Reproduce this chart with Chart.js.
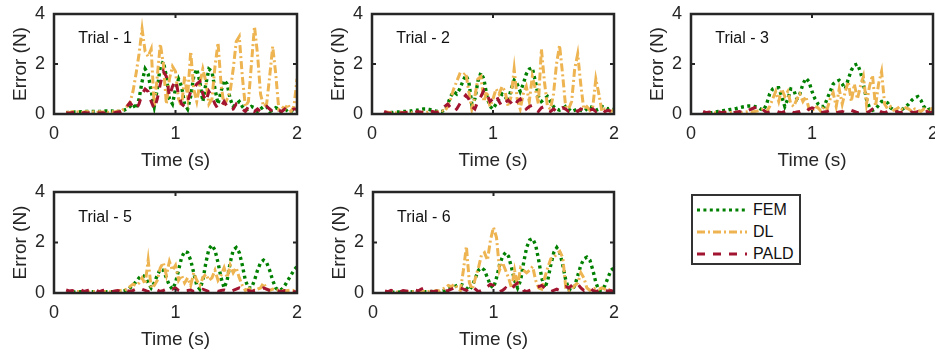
<!DOCTYPE html>
<html>
<head>
<meta charset="utf-8">
<script src="https://cdn.jsdelivr.net/npm/chart.js@4.4.1/dist/chart.umd.min.js"></script>
<style>
  html, body { margin: 0; padding: 0; background: #fff; overflow: hidden; }
  body { width: 935px; height: 353px; position: relative; font-family: "Liberation Sans", Arial, sans-serif; }
  canvas { position: absolute; }
  #legend { position: absolute; left: 691px; top: 194px; width: 110px; height: 71px; box-sizing: border-box;
            border: 2px solid #333; background: #fff; padding-top: 3px; }
  .row { height: 22px; display: flex; align-items: center; font-size: 16px; color: #111; }
  .row svg { margin-left: 3px; margin-right: 5px; }
</style>
</head>
<body>
<canvas id="trial1"></canvas>
<canvas id="trial2"></canvas>
<canvas id="trial3"></canvas>
<canvas id="trial5"></canvas>
<canvas id="trial6"></canvas>
<div id="legend">
  <div class="row"><svg width="52" height="6"><line x1="1" y1="3" x2="51" y2="3" stroke="#008000" stroke-width="3.2" stroke-dasharray="3 3.4"/></svg>FEM</div>
  <div class="row"><svg width="52" height="6"><line x1="1" y1="3" x2="51" y2="3" stroke="#EDB451" stroke-width="2.8" stroke-dasharray="8 3 2 3"/></svg>DL</div>
  <div class="row"><svg width="52" height="6"><line x1="1" y1="3" x2="51" y2="3" stroke="#A2142F" stroke-width="2.8" stroke-dasharray="8 8"/></svg>PALD</div>
</div>
<script>
// time axis (s)
var timeS = [0.1,0.125,0.15,0.175,0.2,0.225,0.25,0.275,0.3,0.325,0.35,0.375,0.4,0.425,0.45,0.475,0.5,0.525,0.55,0.575,
  0.6,0.625,0.65,0.675,0.7,0.725,0.75,0.775,0.8,0.825,0.85,0.875,0.9,0.925,0.95,0.975,1.0,1.025,1.05,1.075,
  1.1,1.125,1.15,1.175,1.2,1.225,1.25,1.275,1.3,1.325,1.35,1.375,1.4,1.425,1.45,1.475,1.5,1.525,1.55,1.575,
  1.6,1.625,1.65,1.675,1.7,1.725,1.75,1.775,1.8,1.825,1.85,1.875,1.9,1.925,1.95,1.975,2.0];

var xTicks = [0, 1, 2];
var yTicks = [0, 2, 4];
var seriesNames = ['FEM', 'DL', 'PALD'];
var trialNames = ['Trial - 1', 'Trial - 2', 'Trial - 3', 'Trial - 5', 'Trial - 6'];

// Trial 1
var fem1 = [0.05,0.06,0.07,0.08, 0.08,0.09,0.1,0.1, 0.1,0.1,0.1,0.1, 0.1,0.12,0.12,0.12, 0.1,0.1,0.1,0.15,
  0.2,0.3,0.4,0.2, 0.6,1.3,1.8,1.6, 0.9,0.3,1.0,1.9, 2.1,1.5,0.6,0.4, 1.0,1.4,1.1,0.4, 0.2,0.7,1.5,1.8,
  1.3,0.5,1.2,1.8, 1.7,1.0,0.4,0.9, 1.35,1.2,0.6,0.3, 0.4,0.5,0.3,0.15, 0.2,0.3,0.25,0.1, 0.2,0.3,0.3,0.1,
  0.15,0.25,0.2,0.05, 0.1,0.2,0.15,0.05, 0.1];
var dl1 = [0.08,0.05,0.1,0.06, 0.09,0.05,0.08,0.1, 0.06,0.09,0.05,0.1, 0.07,0.12,0.06,0.1, 0.08,0.12,0.1,0.2,
  0.3,0.45,0.9,1.6, 2.4,3.4,2.5,2.3, 2.6,0.3,1.5,2.8, 2.0,0.4,1.4,1.9, 1.7,0.6,0.3,1.5, 0.7,2.5,1.0,0.5,
  1.2,1.8,1.3,0.4, 0.6,1.9,2.85,1.2, 0.3,0.6,0.9,1.8, 2.9,3.1,1.5,0.3, 0.5,2.0,3.5,2.4, 0.8,0.3,0.4,1.5,
  2.7,1.6,0.2,0.3, 0.2,0.4,0.1,0.3, 1.4];
var pald1 = [0.05,0.03,0.06,0.04, 0.05,0.03,0.06,0.04, 0.05,0.03,0.06,0.04, 0.05,0.03,0.06,0.04, 0.05,0.08,0.1,0.15,
  0.3,0.45,0.3,0.2, 0.4,0.8,1.0,0.9, 0.5,0.2,0.6,1.2, 1.7,1.5,0.7,1.1, 1.35,0.8,0.4,0.3, 0.5,0.9,1.0,1.2,
  1.3,0.8,0.5,0.9, 0.7,0.4,0.2,0.3, 0.5,0.3,0.15,0.2, 0.4,0.3,0.2,0.1, 0.3,0.2,0.1,0.2, 0.1,0.15,0.3,0.2,
  0.1,0.2,0.15,0.1, 0.2,0.1,0.15,0.2, 0.2];

// Trial 2
var fem2 = [0.05,0.05,0.06,0.06, 0.08,0.08,0.1,0.1, 0.12,0.12,0.15,0.15, 0.18,0.2,0.2,0.18, 0.15,0.12,0.1,0.1,
  0.15,0.4,0.7,0.9, 0.8,1.0,1.3,1.55, 1.3,0.4,0.6,1.3, 1.65,1.4,0.7,0.3, 0.2,0.4,0.6,0.8, 0.7,0.5,1.0,1.35,
  1.2,0.9,1.2,1.6, 1.8,1.85,1.3,0.7, 0.5,0.6,0.7,0.5, 0.3,0.2,0.15,0.2, 0.3,0.2,0.1,0.15, 0.2,0.15,0.1,0.2,
  0.3,0.25,0.15,0.2, 0.3,0.25,0.2,0.25, 0.2];
var dl2 = [0.05,0.08,0.05,0.06, 0.05,0.08,0.06,0.05, 0.07,0.05,0.08,0.06, 0.05,0.08,0.06,0.1, 0.08,0.06,0.1,0.15,
  0.1,0.3,0.6,1.0, 1.3,1.6,1.55,1.65, 0.9,0.2,0.7,1.4, 1.5,0.5,0.9,0.3, 0.6,1.0,0.8,1.1, 0.9,0.3,0.7,1.8,
  0.6,0.2,0.8,1.1, 0.5,1.5,1.0,0.4, 2.6,1.3,0.3,0.2, 0.8,2.0,2.75,1.6, 0.3,0.2,0.5,1.8, 2.4,1.2,0.2,0.3,
  0.15,0.3,1.4,0.8, 0.1,0.2,0.15,0.1, 0.15];
var pald2 = [0.1,0.05,0.03,0.06, 0.08,0.04,0.05,0.06, 0.08,0.05,0.06,0.1, 0.08,0.06,0.1,0.12, 0.1,0.06,0.08,0.15,
  0.3,0.4,0.25,0.1, 0.2,0.4,0.6,0.75, 0.6,0.3,0.2,0.5, 0.7,0.95,0.8,0.5, 0.6,0.75,0.5,0.3, 0.45,0.55,0.45,0.3,
  0.5,0.6,0.4,0.2, 0.3,0.35,0.2,0.1, 0.25,0.3,0.15,0.1, 0.2,0.1,0.15,0.25, 0.2,0.1,0.15,0.2, 0.1,0.2,0.15,0.1,
  0.15,0.2,0.1,0.15, 0.2,0.1,0.15,0.1, 0.1];

// Trial 3
var fem3 = [0.03,0.04,0.05,0.06, 0.08,0.1,0.12,0.14, 0.15,0.18,0.2,0.22, 0.25,0.28,0.3,0.32, 0.32,0.3,0.28,0.2,
  0.15,0.4,0.8,1.0, 1.05,1.05,0.7,0.3, 0.6,1.0,0.95,0.6, 0.8,1.2,1.43,1.3, 0.9,0.6,0.4,0.3, 0.3,0.6,0.9,1.2,
  1.3,1.35,1.2,1.0, 1.4,1.75,1.95,2.0, 1.7,1.2,0.6,0.25, 0.15,0.2,0.35,0.5, 0.5,0.45,0.25,0.15, 0.12,0.15,0.2,0.3,
  0.4,0.55,0.65,0.7, 0.55,0.3,0.15,0.2, 0.2];
var dl3 = [0.03,0.05,0.04,0.06, 0.05,0.04,0.06,0.05, 0.04,0.06,0.05,0.07, 0.05,0.06,0.08,0.1, 0.08,0.1,0.12,0.15,
  0.2,0.1,0.3,0.6, 0.9,0.5,1.0,0.7, 0.9,0.4,0.3,0.6, 0.8,0.5,0.7,0.2, 0.1,0.3,0.25,0.1, 0.3,0.2,0.6,0.85,
  0.3,1.0,0.4,0.9, 1.3,0.5,1.2,0.6, 1.1,1.5,0.4,1.1, 1.55,0.3,1.2,1.7, 0.4,0.2,0.3,0.15, 0.2,0.3,0.15,0.25,
  0.2,0.1,0.2,0.15, 0.1,0.2,0.1,0.25, 0.15];
var pald3 = [0.1,0.05,0.08,0.04, 0.06,0.1,0.05,0.08, 0.06,0.1,0.05,0.08, 0.1,0.06,0.12,0.15, 0.2,0.25,0.3,0.28,
  0.15,0.05,0.08,0.1, 0.12,0.08,0.05,0.1, 0.15,0.1,0.05,0.08, 0.1,0.15,0.1,0.2, 0.25,0.2,0.1,0.05, 0.08,0.1,0.15,0.1,
  0.05,0.08,0.1,0.05, 0.1,0.15,0.1,0.05, 0.08,0.1,0.05,0.1, 0.2,0.25,0.15,0.08, 0.05,0.1,0.08,0.05, 0.1,0.05,0.08,0.1,
  0.05,0.08,0.05,0.1, 0.05,0.08,0.1,0.05, 0.08];

// Trial 5
var fem5 = [0.03,0.03,0.04,0.04, 0.05,0.05,0.04,0.04, 0.05,0.05,0.04,0.04, 0.05,0.05,0.04,0.05, 0.05,0.06,0.05,0.08,
  0.1,0.2,0.3,0.45, 0.6,0.7,0.65,0.4, 0.2,0.4,0.7,0.95, 0.9,0.6,0.3,0.15, 0.4,0.9,1.4,1.65, 1.6,1.3,0.8,0.3,
  0.15,0.5,1.2,1.75, 1.9,1.7,1.2,0.6, 0.2,0.5,1.2,1.7, 1.8,1.6,1.1,0.5, 0.2,0.2,0.5,0.9, 1.2,1.3,1.2,0.9,
  0.5,0.2,0.1,0.15, 0.3,0.5,0.7,0.9, 1.05];
var dl5 = [0.05,0.06,0.04,0.05, 0.06,0.04,0.05,0.06, 0.04,0.05,0.06,0.04, 0.05,0.06,0.05,0.04, 0.06,0.08,0.1,0.12,
  0.15,0.25,0.35,0.3, 0.4,0.6,0.35,1.3, 0.2,0.3,0.5,1.0, 1.2,0.7,1.25,0.9, 1.1,0.5,0.7,0.4, 0.6,0.3,0.8,0.5,
  0.3,0.6,0.75,0.5, 0.6,0.9,0.5,0.7, 1.0,0.6,1.1,0.8, 1.0,0.6,0.3,0.1, 0.15,0.2,0.1,0.15, 0.2,0.4,0.15,0.1,
  0.15,0.1,0.12,0.1, 0.08,0.1,0.12,0.1, 0.1];
var pald5 = [0.12,0.08,0.1,0.05, 0.1,0.12,0.06,0.1, 0.12,0.08,0.1,0.05, 0.1,0.12,0.08,0.05, 0.08,0.1,0.05,0.08,
  0.1,0.06,0.1,0.15, 0.2,0.15,0.1,0.05, 0.08,0.1,0.12,0.06, 0.1,0.15,0.2,0.15, 0.2,0.1,0.05,0.08, 0.1,0.12,0.06,0.1,
  0.12,0.15,0.1,0.05, 0.08,0.1,0.06,0.1, 0.12,0.08,0.05,0.1, 0.15,0.2,0.15,0.08, 0.1,0.06,0.1,0.12, 0.15,0.2,0.15,0.1,
  0.06,0.1,0.08,0.05, 0.1,0.08,0.1,0.06, 0.05];

// Trial 6
var fem6 = [0.02,0.02,0.03,0.03, 0.03,0.04,0.04,0.04, 0.04,0.05,0.05,0.05, 0.05,0.05,0.05,0.05, 0.06,0.06,0.06,0.08,
  0.1,0.15,0.2,0.25, 0.3,0.35,0.3,0.2, 0.1,0.3,0.6,0.9, 1.0,0.9,0.6,0.3, 0.2,0.6,1.1,1.45, 1.6,1.45,1.0,0.5,
  0.2,0.5,1.2,1.8, 2.1,2.15,1.9,1.3, 0.6,0.2,0.5,1.1, 1.6,1.8,1.6,1.1, 0.5,0.15,0.1,0.3, 0.7,1.1,1.35,1.42,
  1.3,0.9,0.4,0.1, 0.1,0.3,0.6,0.9, 1.0];
var dl6 = [0.05,0.04,0.06,0.05, 0.04,0.06,0.05,0.04, 0.06,0.05,0.07,0.05, 0.04,0.06,0.05,0.08, 0.06,0.1,0.08,0.15,
  0.2,0.3,0.25,0.35, 0.2,0.1,0.9,1.85, 0.4,0.15,0.6,1.0, 1.5,1.6,1.3,2.1, 2.6,2.2,0.9,1.2, 0.9,0.6,0.2,0.9,
  0.3,1.0,0.9,0.8, 0.9,1.05,0.5,0.2, 0.15,0.6,1.0,1.35, 1.4,1.55,1.65,1.4, 0.2,0.1,0.15,0.3, 0.4,0.8,0.6,0.2,
  0.1,0.15,0.2,0.15, 0.2,0.15,0.1,0.15, 0.1];
var pald6 = [0.08,0.05,0.1,0.06, 0.08,0.05,0.1,0.08, 0.06,0.1,0.12,0.08, 0.15,0.2,0.12,0.08, 0.05,0.08,0.06,0.1,
  0.08,0.1,0.15,0.2, 0.25,0.2,0.15,0.1, 0.2,0.25,0.15,0.05, 0.1,0.15,0.25,0.35, 0.3,0.15,0.05,0.1, 0.2,0.1,0.15,0.3,
  0.4,0.3,0.1,0.05, 0.1,0.15,0.2,0.25, 0.3,0.2,0.1,0.05, 0.1,0.15,0.1,0.2, 0.25,0.2,0.3,0.4, 0.35,0.2,0.1,0.15,
  0.2,0.1,0.05,0.1, 0.15,0.1,0.08,0.1, 0.05];

var INK = '#262626';
var FONT = '"Liberation Sans", Arial, sans-serif';

function points(vals) {
    return timeS.map(function (t, i) { return {x: t, y: vals[i]}; });
}

// axes box with inward ticks on all four sides, plus the trial label
var matlabAxes = {
    id: 'matlabAxes',
    afterDatasetsDraw: function (chart) {
        var ctx = chart.ctx;
        var a = chart.chartArea;
        var xs = chart.scales.x, ys = chart.scales.y;
        ctx.save();
        ctx.strokeStyle = INK;
        ctx.lineWidth = 2.5;
        ctx.strokeRect(a.left, a.top, a.right - a.left, a.bottom - a.top);
        ctx.lineWidth = 2;
        ctx.beginPath();
        xTicks.forEach(function (v) {
            var px = xs.getPixelForValue(v);
            ctx.moveTo(px, a.bottom); ctx.lineTo(px, a.bottom - 4);
            ctx.moveTo(px, a.top); ctx.lineTo(px, a.top + 4);
        });
        yTicks.forEach(function (v) {
            var py = ys.getPixelForValue(v);
            ctx.moveTo(a.left, py); ctx.lineTo(a.left + 4, py);
            ctx.moveTo(a.right, py); ctx.lineTo(a.right - 4, py);
        });
        ctx.stroke();
        ctx.fillStyle = '#111';
        ctx.font = '16px ' + FONT;
        ctx.textAlign = 'left';
        ctx.textBaseline = 'middle';
        ctx.fillText(chart.options.plugins.matlabAxes.label, xs.getPixelForValue(0.2), ys.getPixelForValue(3.0));
        ctx.restore();
    }
};

function fixAxis(size, key) {
    return function (s) {
        s[key] = size;
        s.paddingTop = 0;
        s.paddingBottom = 0;
        s.paddingLeft = 0;
        s.paddingRight = 0;
    };
}

function drawTrialChart(id, label, fem, dl, pald, box) {
    var element = document.getElementById(id);
    if (!element) {
        return;
    }
    element.width = box.w + 67;
    element.height = box.h + 75;
    element.style.left = (box.x - 54) + 'px';
    element.style.top = (box.y - 14) + 'px';

    var config = {
        type: 'line',
        data: {
            datasets: [
                {label: seriesNames[0], data: points(fem), borderColor: '#008000', borderWidth: 3.4,
                 borderDash: [3, 3.4], borderCapStyle: 'butt', order: 3},
                {label: seriesNames[1], data: points(dl), borderColor: '#EDB451', borderWidth: 3,
                 borderDash: [8, 3, 2, 3], order: 2},
                {label: seriesNames[2], data: points(pald), borderColor: '#A2142F', borderWidth: 3,
                 borderDash: [8, 8], order: 1}
            ]
        },
        options: {
            responsive: false,
            animation: false,
            devicePixelRatio: 1,
            layout: {padding: {top: 14, right: 13, left: 0, bottom: 0}},
            elements: {point: {radius: 0}, line: {tension: 0, fill: false}},
            plugins: {
                legend: {display: false},
                tooltip: {enabled: false},
                matlabAxes: {label: label}
            },
            scales: {
                x: {
                    type: 'linear', min: 0, max: 2,
                    grid: {display: false, drawTicks: false},
                    border: {display: false},
                    ticks: {stepSize: 1, padding: 9, maxRotation: 0, color: INK, font: {size: 18, family: FONT}},
                    title: {display: true, text: 'Time (s)', color: INK, font: {size: 19, family: FONT},
                            padding: {top: 0, bottom: 3}},
                    afterFit: fixAxis(61, 'height')
                },
                y: {
                    type: 'linear', min: 0, max: 4,
                    grid: {display: false, drawTicks: false},
                    border: {display: false},
                    ticks: {stepSize: 2, padding: 9, color: INK, font: {size: 18, family: FONT}},
                    title: {display: true, text: 'Error (N)', color: INK, font: {size: 19, family: FONT},
                            padding: {top: 9, bottom: 0}},
                    afterFit: fixAxis(54, 'width')
                }
            }
        },
        plugins: [matlabAxes]
    };

    new Chart(element, config);
}

drawTrialChart('trial1', trialNames[0], fem1, dl1, pald1, {x: 54, y: 14, w: 243, h: 100});
drawTrialChart('trial2', trialNames[1], fem2, dl2, pald2, {x: 372, y: 14, w: 242, h: 100});
drawTrialChart('trial3', trialNames[2], fem3, dl3, pald3, {x: 691, y: 14, w: 242, h: 100});
drawTrialChart('trial5', trialNames[3], fem5, dl5, pald5, {x: 54, y: 192, w: 243, h: 101});
drawTrialChart('trial6', trialNames[4], fem6, dl6, pald6, {x: 373, y: 192, w: 241, h: 101});
</script>
</body>
</html>
